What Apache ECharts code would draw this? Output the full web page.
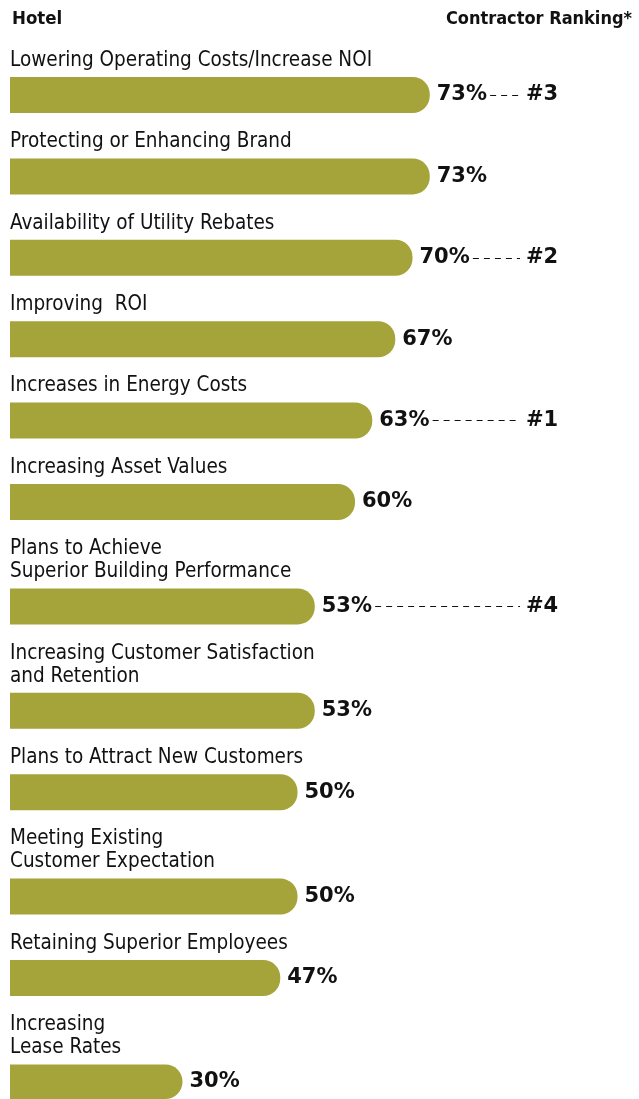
<!DOCTYPE html>
<html>
<head>
<meta charset="utf-8">
<script src="https://cdn.jsdelivr.net/npm/echarts@6/dist/echarts.min.js"></script>
<style>
html, body { margin: 0; padding: 0; background: #fff; }
#chart { width: 639px; height: 1099px; }
</style>
</head>
<body>
<div id="chart"></div>
<script>
// data
var categories = [
    'Lowering Operating Costs/Increase NOI',
    'Protecting or Enhancing Brand',
    'Availability of Utility Rebates',
    'Improving  ROI',
    'Increases in Energy Costs',
    'Increasing Asset Values',
    'Plans to Achieve\nSuperior Building Performance',
    'Increasing Customer Satisfaction\nand Retention',
    'Plans to Attract New Customers',
    'Meeting Existing\nCustomer Expectation',
    'Retaining Superior Employees',
    'Increasing\nLease Rates'
];
var values = [73, 73, 70, 67, 63, 60, 53, 53, 50, 50, 47, 30];
var rankings = [3, null, 2, null, 1, null, 4, null, null, null, null, null];

var BAR = '#A5A43A';
var NARROW = "'DejaVu Sans Condensed', 'Liberation Sans Narrow', sans-serif";
var HEAVY = "'DejaVu Sans', sans-serif";

var chart = echarts.init(document.getElementById('chart'));

// one small grid per row, rows with two-line labels get more room
var grids = [], xAxes = [], yAxes = [], series = [];
var rowTop = 77;
categories.forEach(function (cat, i) {
    var lines = cat.split('\n').length;
    if (i > 0) rowTop += 81.4 + 23 * (lines - 1);

    grids.push({ left: 10, top: rowTop, width: 575, height: 36 });
    xAxes.push({ gridIndex: i, type: 'value', min: 0, max: 100, show: false });
    yAxes.push({
        gridIndex: i,
        type: 'category',
        data: [cat],
        axisLine: { show: false },
        axisTick: { show: false },
        axisLabel: { show: false },
        splitLine: { show: false },
        name: cat,
        nameLocation: 'end',
        nameGap: 5,
        nameTextStyle: {
            align: 'left',
            verticalAlign: 'bottom',
            fontFamily: NARROW,
            fontSize: 20.5,
            lineHeight: 23,
            color: '#111'
        }
    });

    var s = {
        type: 'bar',
        xAxisIndex: i,
        yAxisIndex: i,
        data: [values[i]],
        barWidth: 36,
        silent: true,
        itemStyle: { color: BAR, borderRadius: [0, 17, 17, 0] },
        label: {
            show: true,
            position: 'right',
            distance: 7,
            formatter: '{c}%',
            fontFamily: HEAVY,
            fontWeight: 'bold',
            fontSize: 21,
            color: '#111'
        }
    };
    if (rankings[i]) {
        s.markLine = {
            silent: true,
            symbol: 'none',
            lineStyle: { type: [6, 5], color: '#111', width: 1 },
            label: {
                show: true,
                position: 'end',
                distance: 6,
                formatter: '#' + rankings[i],
                fontFamily: HEAVY,
                fontWeight: 'bold',
                fontSize: 21,
                color: '#111'
            },
            data: [[{ coord: [values[i] + 10.5, 0] }, { coord: [88.7, 0] }]]
        };
    }
    series.push(s);
});

var option = {
    animation: false,
    title: [
        { text: 'Hotel', left: 7, top: 5,
          textStyle: { fontFamily: NARROW, fontWeight: 'bold', fontSize: 18.5, color: '#111' } },
        { text: 'Contractor Ranking*', right: 2, top: 5,
          textStyle: { fontFamily: NARROW, fontWeight: 'bold', fontSize: 18, color: '#111' } }
    ],
    grid: grids,
    xAxis: xAxes,
    yAxis: yAxes,
    series: series
};

chart.setOption(option);
</script>
</body>
</html>
